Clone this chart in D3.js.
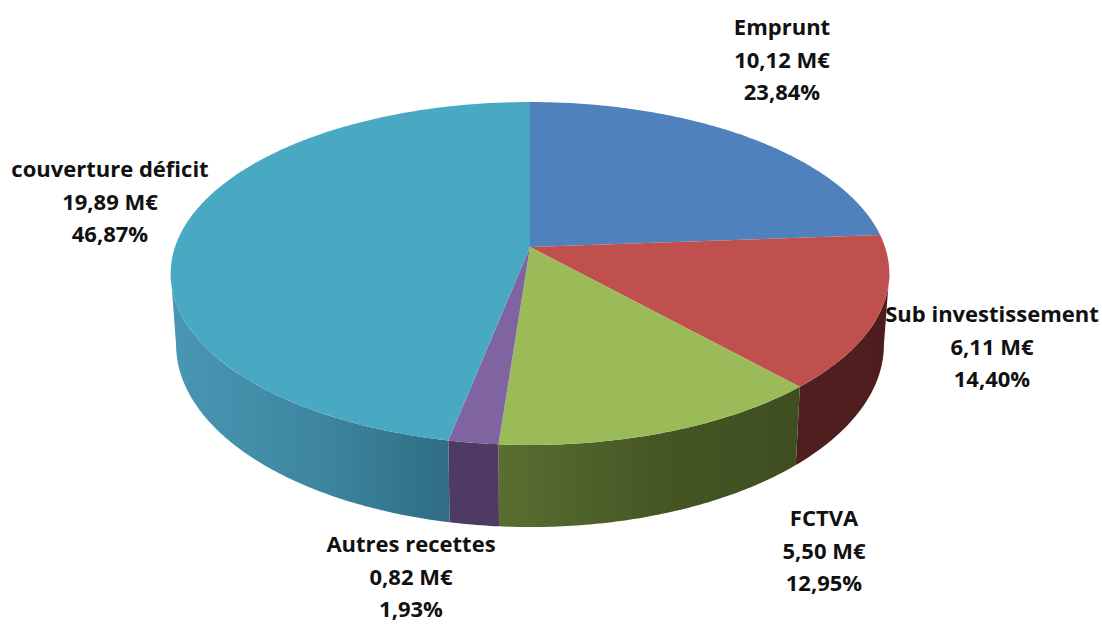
<!DOCTYPE html>
<html><head><meta charset="utf-8">
<script src="https://cdn.jsdelivr.net/npm/d3@7"></script>
<style>html,body{margin:0;background:#fff}svg{display:block}text{font-family:"Open Sans",sans-serif;font-weight:700;font-size:22px;fill:#111}</style>
</head><body><svg id="c" width="1102" height="624"></svg>
<script>
const categories=["Emprunt","Sub investissement","FCTVA","Autres recettes","couverture déficit"];
const amounts=["10,12 M€","6,11 M€","5,50 M€","0,82 M€","19,89 M€"];
const percents=["23,84%","14,40%","12,95%","1,93%","46,87%"];
const shares=[23.84,14.40,12.95,1.93,46.87];
const topColors=["#4f81bd","#c0504d","#9bbb59","#8064a2","#49a9c3"];
const wallLeftColors=["#35567e","#4f1f1f","#5a6e31","#4f3a63","#4a97b3"];
const wallMidColors=["#35567e","#4f1f1f","#455624","#4f3a63","#3d85a0"];
const wallRightColors=["#35567e","#4d1d1d","#3e4e20","#4f3a63","#2f6d82"];
const labelX=[782,992,824,411,110];
const labelY=[27,314,518,544,169];
const W=1102,H=624,cx=530,cy=247,K=355,k=167.4,p=0.1545,depth=69.4,shrink=0.985;
const svg=d3.select("#c");
const defs=svg.append("defs");
const pie=d3.pie().sort(null).value(d=>d);
const arcs=pie(shares);
const proj=(a,wall)=>{const u=Math.sin(a),v=-Math.cos(a),q=1-p*v;
  const x=cx+K*u/q*(wall?shrink:1),y=cy+k*v/q+(wall?depth/q:0);return [x,y];};
const line=d3.line();
const samples=(a0,a1)=>{const n=Math.max(4,Math.ceil((a1-a0)*90));return d3.range(n+1).map(i=>a0+(a1-a0)*i/n);};
// walls run between the two points where the rim is widest on screen
const wallStart=Math.acos(-p),wallEnd=2*Math.PI-wallStart;
arcs.forEach((d,i)=>{
  const a0=Math.max(d.startAngle,wallStart),a1=Math.min(d.endAngle,wallEnd);
  if(a0>=a1)return;
  const as=samples(a0,a1);
  const up=as.map(a=>proj(a,false)),down=as.map(a=>proj(a,true)).reverse();
  const xs=up.concat(down).map(q=>q[0]);
  const id="w"+i;
  const g=defs.append("linearGradient").attr("id",id).attr("gradientUnits","userSpaceOnUse")
    .attr("x1",d3.min(xs)).attr("x2",d3.max(xs)).attr("y1",0).attr("y2",0);
  g.append("stop").attr("offset",0).attr("stop-color",wallLeftColors[i]);
  g.append("stop").attr("offset",0.55).attr("stop-color",wallMidColors[i]);
  g.append("stop").attr("offset",1).attr("stop-color",wallRightColors[i]);
  svg.append("path").attr("d",line(up.concat(down))+"Z").attr("fill",`url(#${id})`);
});
// top faces
arcs.forEach((d,i)=>{
  const pts=[[cx,cy]].concat(samples(d.startAngle,d.endAngle).map(a=>proj(a,false)));
  svg.append("path").attr("d",line(pts)+"Z").attr("fill",topColors[i]);
});
// labels
categories.forEach((c,i)=>{
  const t=svg.append("text").attr("text-anchor","middle");
  [c,amounts[i],percents[i]].forEach((s,j)=>{
    t.append("tspan").attr("x",labelX[i]).attr("y",labelY[i]+j*32.5+8).text(s);
  });
});
</script></body></html>
